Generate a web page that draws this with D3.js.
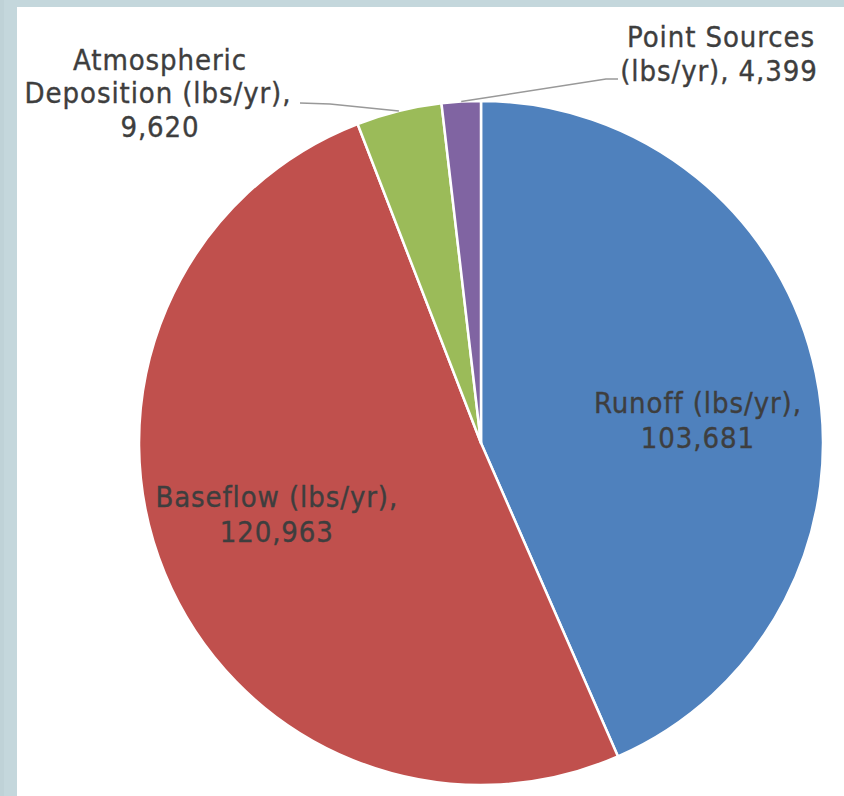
<!DOCTYPE html>
<html>
<head>
<meta charset="utf-8">
<script src="https://cdn.jsdelivr.net/npm/d3@7/dist/d3.min.js"></script>
<style>
  html, body { margin: 0; padding: 0; background: #c4d7dc; }
  svg { display: block; }
  .lbl { font-family: "DejaVu Sans Condensed", "DejaVu Sans", sans-serif; font-stretch: condensed; font-size: 29px; letter-spacing: 0.9px; fill: #3e3e3e; stroke: #3e3e3e; stroke-width: 0.35px; }
</style>
</head>
<body>
<svg id="chart" width="844" height="796"></svg>
<script>
// Nitrogen load sources, lbs/yr
const categories = ["Runoff", "Baseflow", "Atmospheric Deposition", "Point Sources"];
const loads = [103681, 120963, 9620, 4399];
const colors = ["#4f81bd", "#c0504d", "#9bbb59", "#8064a2"];
const unitLabel = "(lbs/yr)";

const W = 844, H = 796;
const svg = d3.select("#chart");

// panel background
svg.append("rect").attr("x", 0).attr("y", 0).attr("width", W).attr("height", H).attr("fill", "#c4d7dc");
svg.append("rect").attr("x", 0).attr("y", 0).attr("width", 4).attr("height", H).attr("fill", "#bfd2d7");
svg.append("rect").attr("x", 17).attr("y", 7).attr("width", W - 17).attr("height", H - 7).attr("fill", "#ffffff");

const cx = 481, cy = 443, R = 342;
const g = svg.append("g").attr("transform", `translate(${cx},${cy})`);

const data = categories.map((c, i) => ({ name: c, value: loads[i], color: colors[i] }));
const pie = d3.pie().value(d => d.value).sort(null);
const arcs = pie(data);
const arc = d3.arc().innerRadius(0).outerRadius(R);
const fmt = d3.format(",");

g.selectAll("path.slice").data(arcs).join("path")
  .attr("class", "slice")
  .attr("d", arc)
  .attr("fill", d => d.data.color)
  .attr("stroke", "#ffffff")
  .attr("stroke-width", 2.5)
  .attr("stroke-linejoin", "round");

// inside labels: placed around the slice centroid
const inner = d3.arc().innerRadius(R * 0.63).outerRadius(R * 0.63);
const insideShift = { "Runoff": [6, 14], "Baseflow": [-5, -18] };
arcs.slice(0, 2).forEach(a => {
  const [x, y] = inner.centroid(a);
  const [sx, sy] = insideShift[a.data.name];
  const t = g.append("text").attr("class", "lbl").attr("text-anchor", "middle")
    .attr("transform", `translate(${x + sx},${y + sy})`);
  t.append("tspan").attr("x", 0).attr("y", 0).text(`${a.data.name} ${unitLabel},`);
  t.append("tspan").attr("x", 0).attr("y", 35).text(fmt(a.data.value));
});

// outside labels with leader lines to the slice rim
const rimPt = a => {
  const m = (a.startAngle + a.endAngle) / 2;
  return [cx + R * Math.sin(m), cy - R * Math.cos(m)];
};

const atm = arcs[2];
const [ax, ay] = rimPt(atm);
svg.append("path")
  .attr("d", d3.line()([[300, 103], [330, 104], [ax, ay]]))
  .attr("fill", "none").attr("stroke", "#999999").attr("stroke-width", 1.5);
const ta = svg.append("text").attr("class", "lbl").attr("text-anchor", "middle");
ta.append("tspan").attr("x", 160).attr("y", 70).text("Atmospheric");
ta.append("tspan").attr("x", 158).attr("y", 103).text(`Deposition ${unitLabel},`);
ta.append("tspan").attr("x", 160).attr("y", 137).text(fmt(atm.data.value));

const ps = arcs[3];
const [px, py] = rimPt(ps);
svg.append("path")
  .attr("d", d3.line()([[618, 79], [606, 79], [px, py]]))
  .attr("fill", "none").attr("stroke", "#999999").attr("stroke-width", 1.5);
const tp = svg.append("text").attr("class", "lbl").attr("text-anchor", "middle");
tp.append("tspan").attr("x", 721).attr("y", 47).text("Point Sources");
tp.append("tspan").attr("x", 719).attr("y", 81).text(`${unitLabel}, ${fmt(ps.data.value)}`);
</script>
</body>
</html>
